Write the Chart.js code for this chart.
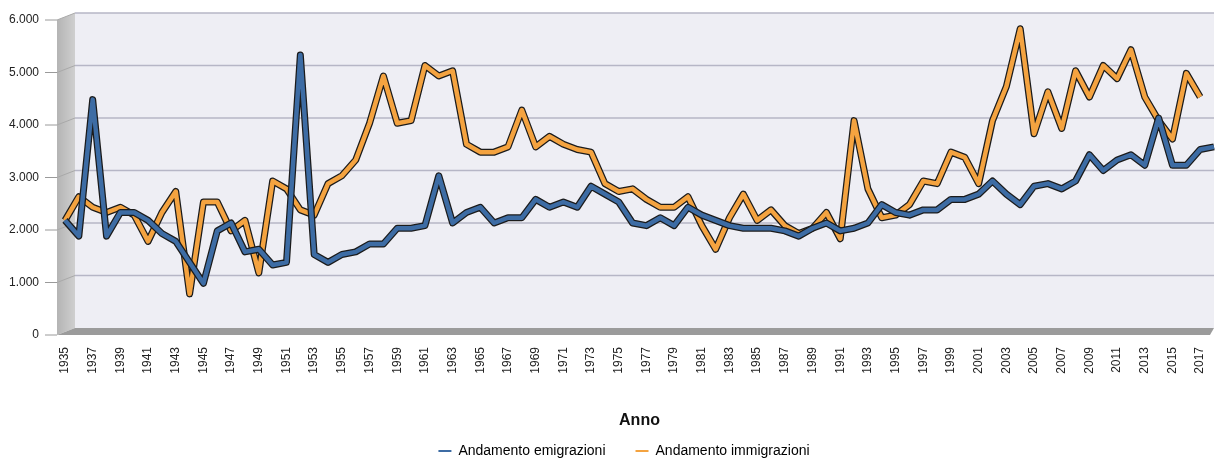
<!DOCTYPE html>
<html>
<head>
<meta charset="utf-8">
<script src="https://cdn.jsdelivr.net/npm/chart.js@4.4.1/dist/chart.umd.min.js"></script>
<style>
  html, body { margin: 0; padding: 0; background: #fff; }
  #wrap { width: 1218px; height: 468px; }
</style>
</head>
<body>
<div id="wrap"><canvas id="chart" width="1218" height="468"></canvas></div>
<script>
const anni = [
  "1935", "1936", "1937", "1938", "1939", "1940", "1941", "1942", "1943", "1944",
  "1945", "1946", "1947", "1948", "1949", "1950", "1951", "1952", "1953", "1954",
  "1955", "1956", "1957", "1958", "1959", "1960", "1961", "1962", "1963", "1964",
  "1965", "1966", "1967", "1968", "1969", "1970", "1971", "1972", "1973", "1974",
  "1975", "1976", "1977", "1978", "1979", "1980", "1981", "1982", "1983", "1984",
  "1985", "1986", "1987", "1988", "1989", "1990", "1991", "1992", "1993", "1994",
  "1995", "1996", "1997", "1998", "1999", "2000", "2001", "2002", "2003", "2004",
  "2005", "2006", "2007", "2008", "2009", "2010", "2011", "2012", "2013", "2014",
  "2015", "2016", "2017", "2018",
];

const emigrazioni = [
  2050, 1750, 4350, 1750, 2200, 2200, 2050, 1800, 1650, 1250,
  850, 1850, 2000, 1450, 1500, 1200, 1250, 5200, 1400, 1250,
  1400, 1450, 1600, 1600, 1900, 1900, 1950, 2900, 2000, 2200,
  2300, 2000, 2100, 2100, 2450, 2300, 2400, 2300, 2700, 2550,
  2400, 2000, 1950, 2100, 1950, 2300, 2150, 2050, 1950, 1900,
  1900, 1900, 1850, 1750, 1900, 2000, 1850, 1900, 2000, 2350,
  2200, 2150, 2250, 2250, 2450, 2450, 2550, 2800, 2550, 2350,
  2700, 2750, 2650, 2800, 3300, 3000, 3200, 3300, 3100, 4000,
  3100, 3100, 3400, 3450,
];

const immigrazioni = [
  2050, 2500, 2300, 2200, 2300, 2150, 1650, 2200, 2600, 650,
  2400, 2400, 1850, 2050, 1050, 2800, 2650, 2250, 2150, 2750,
  2900, 3200, 3900, 4800, 3900, 3950, 5000, 4800, 4900, 3500,
  3350, 3350, 3450, 4150, 3450, 3650, 3500, 3400, 3350, 2750,
  2600, 2650, 2450, 2300, 2300, 2500, 1950, 1500, 2100, 2550,
  2050, 2250, 1950, 1800, 1900, 2200, 1700, 3950, 2650, 2100,
  2150, 2350, 2800, 2750, 3350, 3250, 2750, 3950, 4600, 5700,
  3700, 4500, 3800, 4900, 4400, 5000, 4750, 5300, 4400, 3950,
  3600, 4850, 4400, null,
];

const yTicks = [0, 1000, 2000, 3000, 4000, 5000, 6000];

const blu = "#3d6ca4";
const arancio = "#f4a340";

function migliaia(v) {
  return String(v).replace(/\B(?=(\d{3})+(?!\d))/g, ".");
}

// fake 3D walls + gridlines behind the lines
const wall3d = {
  id: "wall3d",
  afterLayout(chart) {
    // legend sits a bit right of the canvas centre in the original
    chart.legend.left += 17;
    chart.legend.right += 17;
  },
  beforeDatasetsDraw(chart) {
    const { ctx, chartArea: a, scales } = chart;
    const dy = 7;
    const bx = a.left + 10;
    const fx = a.left - 8;
    ctx.save();
    // back wall
    ctx.fillStyle = "#eeeef4";
    ctx.fillRect(bx, a.top, a.right - bx, a.bottom - a.top);
    // left wall
    const g = ctx.createLinearGradient(fx, 0, bx, 0);
    g.addColorStop(0, "#b4b4b4");
    g.addColorStop(1, "#cfcfcf");
    ctx.fillStyle = g;
    ctx.beginPath();
    ctx.moveTo(fx, a.top + dy);
    ctx.lineTo(bx, a.top);
    ctx.lineTo(bx, a.bottom);
    ctx.lineTo(fx, a.bottom + dy);
    ctx.closePath();
    ctx.fill();
    // floor
    ctx.fillStyle = "#9b9b9b";
    ctx.beginPath();
    ctx.moveTo(fx, a.bottom + dy);
    ctx.lineTo(bx, a.bottom);
    ctx.lineTo(a.right, a.bottom);
    ctx.lineTo(a.right - 4, a.bottom + dy);
    ctx.closePath();
    ctx.fill();
    // gridlines
    yTicks.forEach((v) => {
      const y = scales.y.getPixelForValue(v);
      if (v > 0) {
        ctx.strokeStyle = "#b6b6c6";
        ctx.lineWidth = 1.5;
        ctx.beginPath();
        ctx.moveTo(bx, y);
        ctx.lineTo(a.right, y);
        ctx.stroke();
        ctx.strokeStyle = "#a9a9a9";
        ctx.lineWidth = 1;
        ctx.beginPath();
        ctx.moveTo(fx, y + dy);
        ctx.lineTo(bx, y);
        ctx.stroke();
      }
      ctx.strokeStyle = "#9a9a9a";
      ctx.lineWidth = 1;
      ctx.beginPath();
      ctx.moveTo(fx - 12, y + dy);
      ctx.lineTo(fx, y + dy);
      ctx.stroke();
    });
    ctx.restore();
  },
};

let ctx = document.getElementById("chart").getContext("2d");
const myChart = new Chart(ctx, {
  type: "line",
  data: {
    labels: anni,
    datasets: [
      {
        label: "Andamento emigrazioni",
        data: emigrazioni,
        borderColor: blu,
        borderWidth: 4.5,
      },
      {
        label: "_bordo_emi",
        data: emigrazioni,
        borderColor: "#1b1b1b",
        borderWidth: 7,
      },
      {
        label: "Andamento immigrazioni",
        data: immigrazioni,
        borderColor: arancio,
        borderWidth: 4.5,
      },
      {
        label: "_bordo_imm",
        data: immigrazioni,
        borderColor: "#1b1b1b",
        borderWidth: 7,
      },
    ],
  },
  options: {
    responsive: false,
    animation: false,
    layout: {
      padding: { top: 13, right: 4, bottom: 0, left: 0 },
    },
    elements: {
      point: { radius: 0 },
      line: { tension: 0, borderJoinStyle: "round", borderCapStyle: "butt" },
    },
    scales: {
      x: {
        grid: { display: false, drawTicks: false },
        border: { display: false },
        ticks: {
          autoSkip: false,
          maxRotation: 90,
          minRotation: 90,
          padding: 19,
          color: "#222",
          font: { family: "'Liberation Sans', Arial, sans-serif", size: 12 },
          callback: function (val, i) {
            return i % 2 === 0 ? this.getLabelForValue(val) : "";
          },
        },
        title: {
          display: true,
          text: "Anno",
          color: "#111",
          font: { family: "'Liberation Sans', Arial, sans-serif", size: 16, weight: "bold" },
          padding: { top: 0, bottom: -16 },
        },
        afterFit: (s) => {
          s.height = 86;
          s.paddingLeft = 0;
          s.paddingRight = 0;
        },
      },
      y: {
        min: 0,
        max: 6000,
        grid: { display: false, drawTicks: false },
        border: { display: false },
        ticks: {
          stepSize: 1000,
          padding: 26,
          labelOffset: 7,
          color: "#222",
          font: { family: "'Liberation Sans', Arial, sans-serif", size: 12 },
          callback: (v) => migliaia(v),
        },
        afterFit: (s) => {
          s.width = 65;
          s.paddingTop = 0;
          s.paddingBottom = 0;
        },
      },
    },
    plugins: {
      tooltip: { enabled: false },
      legend: {
        position: "bottom",
        labels: {
          padding: 30,
          boxWidth: 13,
          boxHeight: 2,
          color: "#222",
          font: { family: "'Liberation Sans', Arial, sans-serif", size: 14 },
          generateLabels: (chart) =>
            chart.data.datasets
              .map((ds, i) => ({
                text: ds.label,
                fillStyle: ds.borderColor,
                strokeStyle: ds.borderColor,
                lineWidth: 0,
                hidden: false,
                datasetIndex: i,
              }))
              .filter((it) => !it.text.startsWith("_")),
        },
      },
    },
  },
  plugins: [wall3d],
});
</script>
</body>
</html>
